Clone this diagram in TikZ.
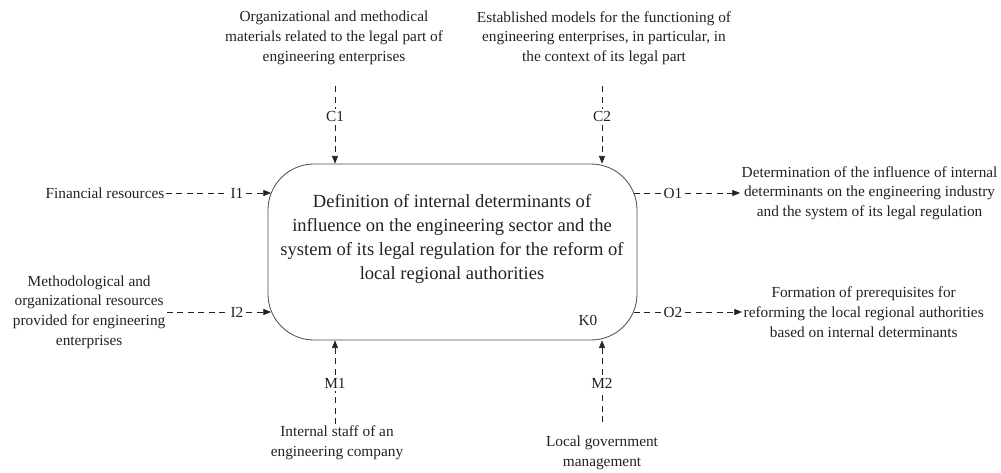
\documentclass[tikz,border=0pt]{standalone}
\usepackage{fontspec}
\setmainfont{Liberation Serif}
\usetikzlibrary{positioning,arrows.meta,calc}
\definecolor{ink}{HTML}{222222}
\definecolor{edge}{HTML}{505050}
\tikzset{
  >={Triangle[length=1.9mm,width=1.5mm]},
  procbox/.style={draw=edge, semithick, rounded corners=11.5mm,
                  minimum width=92.25mm, minimum height=44mm},
  note/.style={align=center, inner sep=1pt, text=ink, font=\fontsize{10.9}{14}\selectfont},
  tag/.style={inner sep=2pt, text=ink, font=\fontsize{10.9}{14}\selectfont},
  title/.style={align=center, text=ink, font=\fontsize{13.2}{17}\selectfont},
  link/.style={draw=ink, thin, dash pattern=on 1.5mm off 1.1mm},
}

\begin{document}
\begin{tikzpicture}[x=0.25mm, y=-0.25mm]
  \useasboundingbox (0,0) rectangle (1001,472);
  % activity block
  \node[procbox] (k0box) at (452.5,252) {};
  \node[title] (k0txt) at (452,239) {Definition of internal determinants of\\
    influence on the engineering sector and the\\
    system of its legal regulation for the reform of\\
    local regional authorities};
  \node[tag] (k0) at (588,320) {K0};
  \coordinate (i1in) at (271,193);
  \coordinate (i2in) at (271,312);
  \coordinate (o1out) at (634,193);
  \coordinate (o2out) at (634,312);
  % controls
  \node[note] (c1txt) at (334,38) {Organizational and methodical\\
    materials related to the legal part of\\engineering enterprises};
  \node[tag] (c1) at (335,117) {C1};
  \node[note] (c2txt) at (604,38) {Established models for the functioning of\\
    engineering enterprises, in particular, in\\the context of its legal part};
  \node[tag] (c2) at (602,117) {C2};
  \draw[link, shorten <=5mm] (c1txt.south -| c1) -- (c1);
  \draw[link,->] (c1) -- (c1 |- k0box.north);
  \draw[link, shorten <=5mm] (c2txt.south -| c2) -- (c2);
  \draw[link,->] (c2) -- (c2 |- k0box.north);
  % inputs
  \node[note, anchor=east] (i1txt) at (166,193) {Financial resources};
  \node[tag] (i1) at (237,193) {I1};
  \node[note, anchor=east] (i2txt) at (167,312) {Methodological and\\
    organizational resources\\provided for engineering\\enterprises};
  \node[tag] (i2) at (237,312) {I2};
  \draw[link] (i1txt) -- (i1);
  \draw[link,->] (i1) -- (i1in);
  \draw[link] (i2txt.east |- i2) -- (i2);
  \draw[link,->] (i2) -- (i2in);
  % outputs
  \node[tag] (o1) at (673,193) {O1};
  \node[note, anchor=west] (o1txt) at (740,193) {Determination of the influence of internal\\
    determinants on the engineering industry\\and the system of its legal regulation};
  \node[tag] (o2) at (673,312) {O2};
  \node[note, anchor=west] (o2txt) at (742,312) {Formation of prerequisites for\\
    reforming the local regional authorities\\based on internal determinants};
  \draw[link] (o1out) -- (o1);
  \draw[link,->] (o1) -- (o1txt.west |- o1);
  \draw[link] (o2out) -- (o2);
  \draw[link,->] (o2) -- (o2txt.west |- o2);
  % mechanisms
  \node[tag] (m1) at (335,383) {M1};
  \node[note, anchor=north] (m1txt) at (337,424) {Internal staff of an\\engineering company};
  \node[tag] (m2) at (602,383) {M2};
  \node[note, anchor=north] (m2txt) at (602,434) {Local government\\management};
  \draw[link] (m1txt.north -| m1) -- (m1);
  \draw[link,->] (m1) -- (m1 |- k0box.south);
  \draw[link, shorten <=3mm] (m2txt.north -| m2) -- (m2);
  \draw[link,->] (m2) -- (m2 |- k0box.south);
\end{tikzpicture}
\end{document}
